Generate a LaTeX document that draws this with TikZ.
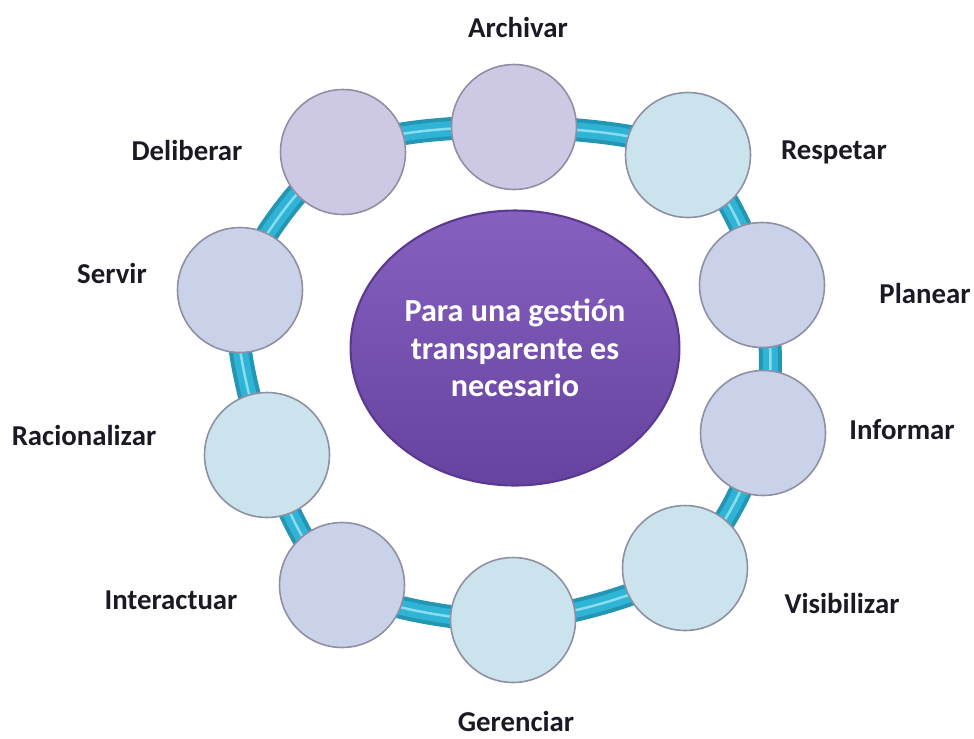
\documentclass[tikz,border=0pt]{standalone}
\usepackage{fontspec}
\setmainfont{Carlito}
\usetikzlibrary{shapes.geometric,backgrounds}
\definecolor{ringdark}{HTML}{2496B4}
\definecolor{ringmid}{HTML}{30B4D6}
\definecolor{ringlight}{HTML}{8ADCEF}
\definecolor{lilac}{HTML}{CDC9E5}
\definecolor{steel}{HTML}{C9D2E8}
\definecolor{pale}{HTML}{CBE3EC}
\definecolor{bubbleedge}{HTML}{8E8FA3}
\definecolor{purpletop}{HTML}{8660BF}
\definecolor{purplebot}{HTML}{6643A0}
\definecolor{purpleedge}{HTML}{5A3A90}
\definecolor{labeltext}{HTML}{1A1A24}
\begin{document}
\begin{tikzpicture}[x=0.02cm, y=-0.02cm,
	bubble/.style={circle, draw=bubbleedge, line width=0.9pt, minimum size=2.5cm, inner sep=0pt},
	lbl/.style={font=\fontsize{16.4}{19}\selectfont\bfseries, text=labeltext},
	ring/.style={line width=#1, line join=round}]
	\useasboundingbox (0,0) rectangle (974,738);
	% centre
	\node[ellipse, minimum width=6cm, minimum height=5.5cm, top color=purpletop, bottom color=purplebot, draw=purpleedge, line width=1.2pt, align=center, text=white, font=\fontsize{18.3}{21.5}\selectfont\bfseries] (core) at (515,348) {Para una gestión\\transparente es\\necesario};
	% bubbles on the ring
	\node[bubble, fill=lilac] (archivar) at (514,127) {};
	\node[bubble, fill=pale] (respetar) at (688,155) {};
	\node[bubble, fill=steel] (planear) at (762,285) {};
	\node[bubble, fill=steel] (informar) at (763,433) {};
	\node[bubble, fill=pale] (visibilizar) at (685,568) {};
	\node[bubble, fill=pale] (gerenciar) at (513,620) {};
	\node[bubble, fill=steel] (interactuar) at (342,585) {};
	\node[bubble, fill=pale] (racionalizar) at (267,455) {};
	\node[bubble, fill=steel] (servir) at (240,290) {};
	\node[bubble, fill=lilac] (deliberar) at (343,152) {};
	% ring behind the bubbles
	\begin{scope}[on background layer]
		\draw[ring=0.46cm, ringdark] plot[smooth cycle] coordinates {(archivar.center) (respetar.center) (planear.center) (informar.center) (visibilizar.center) (gerenciar.center) (interactuar.center) (racionalizar.center) (servir.center) (deliberar.center)};
		\draw[ring=0.3cm, ringmid] plot[smooth cycle] coordinates {(archivar.center) (respetar.center) (planear.center) (informar.center) (visibilizar.center) (gerenciar.center) (interactuar.center) (racionalizar.center) (servir.center) (deliberar.center)};
		\draw[ring=0.05cm, ringlight] plot[smooth cycle] coordinates {(archivar.center) (respetar.center) (planear.center) (informar.center) (visibilizar.center) (gerenciar.center) (interactuar.center) (racionalizar.center) (servir.center) (deliberar.center)};
	\end{scope}
	% labels
	\node[lbl] (lbl-archivar) at (518,27) {Archivar};
	\node[lbl] (lbl-respetar) at (834,152) {Respetar};
	\node[lbl] (lbl-planear) at (925,293) {Planear};
	\node[lbl] (lbl-informar) at (902,430) {Informar};
	\node[lbl] (lbl-visibilizar) at (842,603) {Visibilizar};
	\node[lbl] (lbl-gerenciar) at (516,721) {Gerenciar};
	\node[lbl] (lbl-interactuar) at (171,600) {Interactuar};
	\node[lbl] (lbl-racionalizar) at (84,435) {Racionalizar};
	\node[lbl] (lbl-servir) at (112,273) {Servir};
	\node[lbl] (lbl-deliberar) at (187,150) {Deliberar};
\end{tikzpicture}
\end{document}
